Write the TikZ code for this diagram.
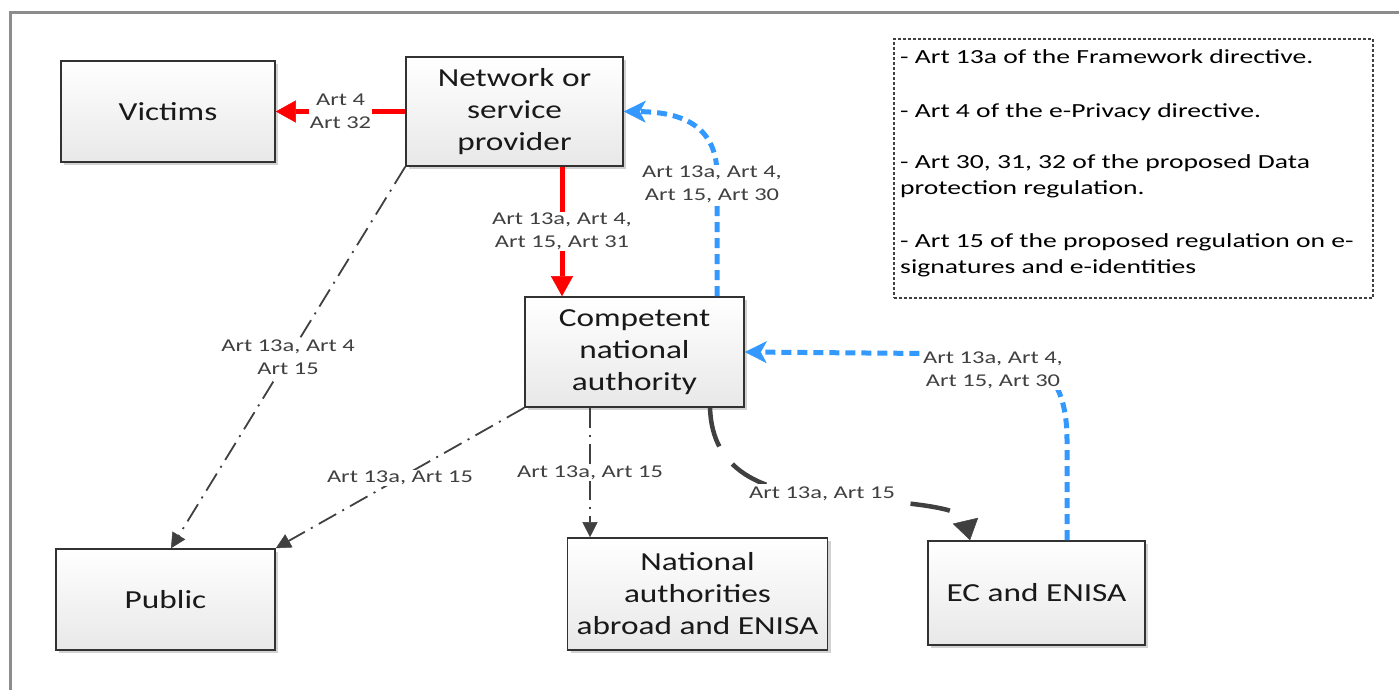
\documentclass[tikz,border=0pt]{standalone}
\usepackage{fontspec}
\setmainfont[FakeStretch=1.28]{Carlito}
\newfontfamily\lblfont[FakeStretch=1.36]{Carlito}
\newfontfamily\legfont[FakeStretch=1.38]{Carlito}
\usetikzlibrary{arrows.meta,shadows}
\definecolor{bluec}{RGB}{51,153,255}
\definecolor{redc}{RGB}{255,0,0}
\definecolor{dgray}{RGB}{64,64,64}
\definecolor{boxline}{RGB}{50,50,50}
\begin{document}
\begin{tikzpicture}[x=1pt,y=-1pt,
  box/.style={draw=boxline, line width=1.6pt, top color=white, bottom color=black!9,
    drop shadow={shadow xshift=3pt,shadow yshift=-3pt,fill=black!35,opacity=0.5},
    inner sep=2pt, align=center, font=\fontsize{26}{32}\selectfont, text=black!90},
  lbl/.style={fill=white, inner sep=1pt, align=center, text=dgray, font=\lblfont\fontsize{18}{23}\selectfont},
  legtxt/.style={anchor=base west, inner sep=0pt, text=black, font=\legfont\fontsize{20}{26}\selectfont},
  redarr/.style={draw=redc, line width=5pt, -{Triangle[width=22pt,length=20pt,line width=0.5pt]}},
  bluearr/.style={draw=bluec, line width=5pt, dash pattern=on 10pt off 6pt, -{Stealth[width=22pt,length=22pt,inset=6pt,line width=0.5pt]}},
  dkarr/.style={draw=dgray, line width=4.5pt, dash pattern=on 40pt off 22pt, -{Triangle[width=26pt,length=20pt,line width=0.5pt]}},
  dd/.style={draw=dgray, line width=1.8pt, dash pattern=on 20pt off 7pt on 2pt off 7pt, -{Triangle[width=15pt,length=15pt,line width=0.5pt]}}
]
\useasboundingbox (0,0) rectangle (1399,689);
\clip (0,0) rectangle (1399,689);
\draw[black!45, line width=3pt] (10,720) -- (10,12) -- (1420,12);

% boxes
\node[box, minimum width=214pt, minimum height=101pt] (vic) at (168,111.5) {Victims};
\node[box, minimum width=217pt, minimum height=109pt] (nsp) at (514.5,111.5) {Network or\\service\\provider};
\node[box, minimum width=219pt, minimum height=110pt] (cna) at (634.5,352) {Competent\\national\\authority};
\node[box, minimum width=219pt, minimum height=101pt] (pub) at (165.5,599.5) {Public};
\node[box, minimum width=260pt, minimum height=112pt] (nat) at (697.5,594) {National\\authorities\\abroad and ENISA};
\node[box, minimum width=217pt, minimum height=104pt] (ec) at (1036.5,593) {EC and ENISA};

% legend
\node[draw=dgray, line width=1.2pt, dash pattern=on 3pt off 2pt, minimum width=479pt, minimum height=259pt, inner sep=0pt] (leg) at (1133.5,168.5) {};
\node[legtxt] (l1) at (900,63) {- Art 13a of the Framework directive.};
\node[legtxt] (l2) at (900,117) {- Art 4 of the e-Privacy directive.};
\node[legtxt] (l3) at (900,168) {- Art 30, 31, 32 of the proposed Data};
\node[legtxt] (l4) at (900,194) {protection regulation.};
\node[legtxt] (l5) at (900,247) {- Art 15 of the proposed regulation on e-};
\node[legtxt] (l6) at (900,273) {signatures and e-identities};

% helper coordinates
\coordinate (x562) at (562,0);
\coordinate (x717) at (717,0);
\coordinate (x1067) at (1067,0);
\coordinate (x710) at (710,0);
\coordinate (x970) at (970,0);
\coordinate (x171) at (171,0);
\coordinate (x590) at (590,0);

% red connectors
\draw[redarr] (nsp.west) -- node[lbl] (t1) {Art 4\\Art 32} (vic.east);
\draw[redarr] (nsp.south -| x562) -- node[lbl] (t2) {Art 13a, Art 4,\\Art 15, Art 31} (cna.north -| x562);

% blue connectors
\draw[bluearr] (cna.north -| x717) -- (717,175) .. controls (717,128) and (685,112) .. (nsp.east);
\node[lbl] (t3) at (712,184) {Art 13a, Art 4,\\Art 15, Art 30};
\draw[bluearr] (ec.north -| x1067) -- (1067,440) .. controls (1067,378) and (1040,354) .. (990,354) -- (cna.east);
\node[lbl] (t4) at (993,370) {Art 13a, Art 4,\\Art 15, Art 30};

% dark curved connector
\draw[dkarr] (cna.south -| x710) .. controls (712,470) and (760,492) .. (830,497) .. controls (900,502) and (962,506) .. (ec.north -| x970);
\node[lbl, inner ysep=3pt] (t5) at (822,494) {Art 13a, Art 15};

% dash-dot connectors
\draw[dd] (nsp.south west) -- node[lbl] (t6) {Art 13a, Art 4\\Art 15} (pub.north -| x171);
\draw[dd] (cna.south west) -- node[lbl] (t7) {Art 13a, Art 15} (pub.north east);
\draw[dd] (cna.south -| x590) -- node[lbl] (t8) {Art 13a, Art 15} (nat.north -| x590);
\end{tikzpicture}
\end{document}
